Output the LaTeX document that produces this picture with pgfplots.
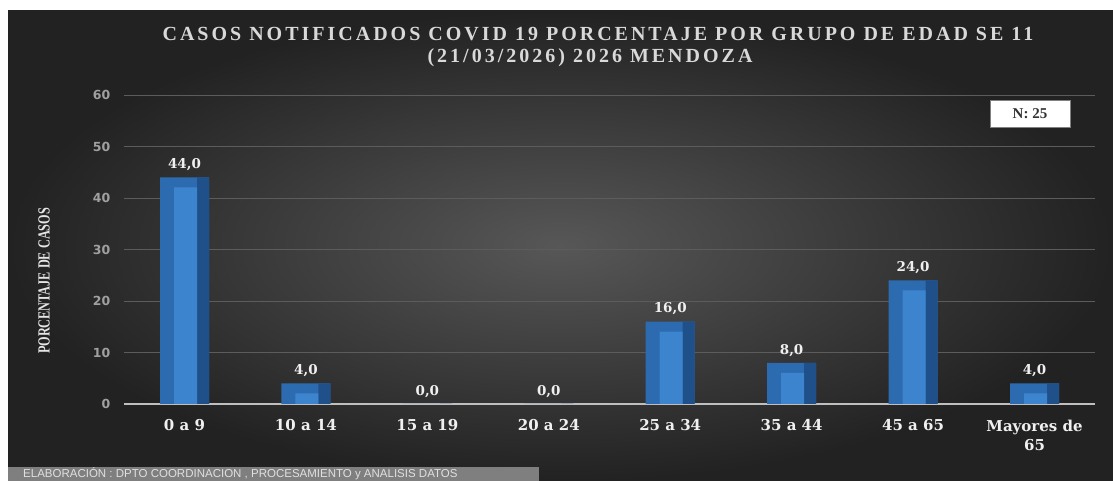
\documentclass[border=0pt]{standalone}
\usepackage{pgfplots}
\pgfplotsset{compat=1.18}
\usepackage{pgfplotstable}
\usepackage{fontspec}
\setmainfont{DejaVu Serif}
\newfontfamily\libserif{Liberation Serif}
\newfontfamily\titlefont{Liberation Serif}[LetterSpace=15]
\newfontfamily\dsans{DejaVu Sans}
\newfontfamily\lsans{Liberation Sans}
\definecolor{bgin}{HTML}{575757}
\definecolor{bgout}{HTML}{222222}
\definecolor{faceL}{HTML}{2C6BB0}
\definecolor{faceR}{HTML}{1F5089}
\definecolor{faceC}{HTML}{3C84CE}
\definecolor{gridc}{HTML}{5C5C5C}
\definecolor{axisc}{HTML}{BFBFBF}
\definecolor{stripc}{HTML}{7F7F7F}
\definecolor{ytk}{HTML}{A0A0A0}
\definecolor{txt}{HTML}{F0F0F0}

\pgfplotstableread{
x y
0 44
1 4
2 0
3 0
4 16
5 8
6 24
7 4
}\data

\begin{document}
\begin{tikzpicture}[x=1pt,y=1pt]
\useasboundingbox (0,0) rectangle (1113,481);
\fill[white] (0,0) rectangle (1113,481);
\shade[inner color=bgin, outer color=bgout] (8,0) rectangle (1113,470);
\fill[stripc] (8,0) rectangle (539,14);
\node[anchor=base west, inner sep=0pt, text=white!88!black, font=\lsans\fontsize{11.5}{13}\selectfont] at (23,3) {ELABORACIÓN : DPTO COORDINACION , PROCESAMIENTO y ANALISIS DATOS};
\node[anchor=base, inner sep=0pt, text=white!85!black, font=\titlefont\bfseries\fontsize{20}{22}\selectfont] at (598,440) {CASOS NOTIFICADOS COVID 19 PORCENTAJE POR GRUPO DE EDAD SE 11};
\node[anchor=base, inner sep=0pt, text=white!85!black, font=\titlefont\bfseries\fontsize{20}{22}\selectfont] at (590,418) {(21/03/2026) 2026 MENDOZA};
\node[rotate=90, inner sep=0pt, text=white!90!black, font=\libserif\bfseries\fontsize{17}{19}\selectfont] at (44,200) {\scalebox{0.72}[1]{PORCENTAJE DE CASOS}};
\begin{axis}[
  at={(123.8pt,77pt)}, anchor=south west,
  scale only axis, width=971.4pt, height=309pt,
  xmin=-0.5, xmax=7.5, ymin=0, ymax=60,
  ybar,
  axis line style={draw=none},
  tick style={draw=none},
  xtick={0,...,7},
  xticklabels={0 a 9,10 a 14,15 a 19,20 a 24,25 a 34,35 a 44,45 a 65,{Mayores de\\65}},
  xticklabel style={align=center, text=txt, font=\bfseries\fontsize{15}{19}\selectfont, yshift=-8pt},
  ytick={0,10,...,60},
  yticklabel style={text=ytk, font=\dsans\bfseries\fontsize{12.5}{14}\selectfont, xshift=-10pt},
  /pgf/number format/assume math mode=true,
  ymajorgrids,
  grid style={gridc, line width=0.8pt},
  extra y ticks={0}, extra y tick labels={},
  extra y tick style={grid style={axisc, line width=1.6pt}},
]
\addplot[fill=faceL, draw=none, bar width=49pt, bar shift=0pt,
  nodes near coords={\pgfmathprintnumber[fixed,fixed zerofill,precision=1,use comma]{\pgfplotspointmeta}},
  nodes near coords style={text=txt, font=\bfseries\fontsize{13.5}{15}\selectfont, yshift=3pt},
  ] table[x=x,y=y] {\data};
\addplot[fill=faceR, draw=none, bar width=12pt, bar shift=18.5pt] table[x=x,y=y] {\data};
\addplot[fill=faceC, draw=none, bar width=23pt, bar shift=1pt, yshift=-10pt] table[x=x,y=y] {\data};
\end{axis}
\node[draw=gray, fill=white, line width=0.6pt, minimum width=80pt, minimum height=27pt, inner sep=0pt, text=black!80, font=\libserif\bfseries\fontsize{15}{17}\selectfont] at (1030,367) {N: 25};
\end{tikzpicture}
\end{document}
